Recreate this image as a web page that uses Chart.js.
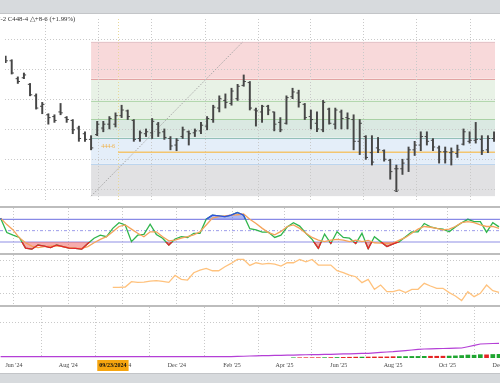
<!DOCTYPE html>
<html>
<head>
<meta charset="utf-8">
<script src="https://cdn.jsdelivr.net/npm/chart.js@4.4.1/dist/chart.umd.min.js"></script>
<style>
  html, body { margin: 0; padding: 0; background: #fff; }
  #wrap { position: relative; width: 500px; height: 383px; overflow: hidden; font-family: "Liberation Serif", serif; }
  .band { position: absolute; left: 0; width: 500px; background: #d7dadd; }
  .sep { position: absolute; left: 0; width: 500px; height: 2px; background: #bdbdbd; }
  canvas { position: absolute; left: 0; }
  #hdr { position: absolute; left: -3px; top: 15px; font-size: 6.8px; color: #333; white-space: nowrap; }
</style>
</head>
<body>
<div id="wrap">
  <div class="band" style="top:0;height:13px;border-bottom:1.5px solid #c3c5c8"></div>
  <canvas id="cPrice" width="500" height="192" style="top:14px"></canvas>
  <div class="sep" style="top:206px"></div>
  <canvas id="cStoch" width="500" height="45" style="top:208px"></canvas>
  <div class="sep" style="top:253px"></div>
  <canvas id="cOi" width="500" height="50" style="top:255px"></canvas>
  <div class="sep" style="top:305px"></div>
  <canvas id="cVol" width="500" height="66" style="top:307px"></canvas>
  <div class="band" style="top:373px;height:10px;border-top:1px solid #c3c5c8"></div>
  <div id="hdr">7-2 C448-4 △+8-6 (+1.99%)</div>
</div>
<script>
// weekly bars (Friday dates)
const weeks = ['2024-05-17','2024-05-24','2024-05-31','2024-06-07','2024-06-14','2024-06-21','2024-06-28','2024-07-05','2024-07-12','2024-07-19','2024-07-26','2024-08-02','2024-08-09','2024-08-16','2024-08-23','2024-08-30','2024-09-06','2024-09-13','2024-09-20','2024-09-27','2024-10-04','2024-10-11','2024-10-18','2024-10-25','2024-11-01','2024-11-08','2024-11-15','2024-11-22','2024-11-29','2024-12-06','2024-12-13','2024-12-20','2024-12-27','2025-01-03','2025-01-10','2025-01-17','2025-01-24','2025-01-31','2025-02-07','2025-02-14','2025-02-21','2025-02-28','2025-03-07','2025-03-14','2025-03-21','2025-03-28','2025-04-04','2025-04-11','2025-04-18','2025-04-25','2025-05-02','2025-05-09','2025-05-16','2025-05-23','2025-05-30','2025-06-06','2025-06-13','2025-06-20','2025-06-27','2025-07-04','2025-07-11','2025-07-18','2025-07-25','2025-08-01','2025-08-08','2025-08-15','2025-08-22','2025-08-29','2025-09-05','2025-09-12','2025-09-19','2025-09-26','2025-10-03','2025-10-10','2025-10-17','2025-10-24','2025-10-31','2025-11-07','2025-11-14','2025-11-21','2025-11-28'];

const highs = [509.2,506.7,495.2,497.8,490.8,483.8,478.1,470.5,469.8,477.4,
  468.6,466.6,462.2,458.4,455.8,465.4,465.4,468.6,471.1,476.2,
  473.0,466.6,459.0,460.3,467.3,464.7,460.3,455.2,453.9,461.6,
  459.0,460.3,464.7,468.6,476.2,482.5,483.8,487.6,490.2,496.5,
  492.1,474.3,476.2,476.2,471.7,467.9,482.5,487.6,486.3,477.4,
  473.0,471.7,479.4,474.3,474.3,473.0,471.1,469.8,466.6,455.8,
  455.8,454.6,446.3,440.0,436.1,440.0,448.2,452.0,458.4,458.4,
  453.9,448.9,448.2,447.6,449.5,460.3,458.4,464.7,455.8,455.8,458.4];
const lows = [504.8,497.1,490.8,494.0,482.5,473.6,470.5,463.5,464.7,469.8,
  464.7,457.1,452.0,452.0,446.3,455.8,458.4,460.3,461.6,467.9,
  466.6,452.0,452.0,455.2,453.9,455.2,453.3,446.3,445.7,453.9,
  449.5,455.2,457.1,459.7,464.7,471.7,474.3,476.2,479.4,488.9,
  473.0,462.2,464.7,469.8,459.0,458.4,463.5,480.6,474.9,466.6,
  460.3,458.4,458.4,463.5,460.3,460.3,460.3,446.3,443.1,439.9,
  436.1,444.4,438.7,426.6,419.0,429.8,431.7,442.5,445.7,449.5,
  445.7,437.4,437.4,436.1,441.2,449.5,450.8,450.8,443.1,444.4,452.0];
const opens = [507.3,506.0,494.0,494.6,490.2,482.5,475.5,469.8,468.6,471.7,
  467.9,466.0,460.9,457.1,453.3,456.5,460.9,463.5,463.5,469.2,
  472.4,466.0,453.9,457.1,457.7,463.5,458.4,453.9,449.5,455.2,
  458.4,457.7,459.0,462.2,466.6,474.3,479.4,477.4,480.6,489.5,
  491.4,473.0,471.7,475.5,471.7,464.7,464.1,481.9,484.4,476.8,
  468.6,464.1,459.7,473.6,463.5,471.7,467.9,466.6,452.0,455.2,
  444.4,447.6,445.7,439.3,433.6,433.6,440.0,446.3,449.5,455.2,
  452.7,447.6,445.0,444.4,443.8,450.1,452.0,452.7,453.3,446.3,453.9];
const closes = [506.0,497.8,492.1,496.5,483.2,474.3,476.8,467.9,466.0,471.1,
  466.6,459.7,453.9,453.3,447.6,463.5,463.5,467.3,469.2,473.0,
  468.6,453.3,457.7,458.4,465.4,457.7,454.6,448.9,452.7,459.7,
  457.1,459.0,462.8,467.3,474.9,480.6,478.1,485.7,488.9,492.1,
  474.3,472.4,475.5,473.0,463.5,459.7,481.3,485.1,478.1,467.9,
  466.6,460.3,478.1,464.1,473.0,467.3,467.3,452.0,464.1,441.2,
  438.1,446.3,440.0,431.7,433.6,437.4,446.3,449.5,455.2,452.0,
  448.2,445.0,445.0,445.0,446.3,458.4,452.7,453.3,445.7,453.9,455.2];

// stochastics %K / %D
const stochK = [83,45,38,32,4,1,12,9,5,12, 8,4,3,1,16,30,38,34,56,71,
  65,21,38,40,67,40,30,12,28,34, 32,43,43,80,91,89,87,91,98,91,
  55,52,46,46,32,38,60,71,62,43, 27,3,41,16,47,32,30,16,43,2,
  34,21,8,15,21,34,47,47,69,60, 56,54,47,60,71,80,74,74,46,71,60];
const stochD = [83,66,52,31,18,9,5,8,9,10, 8,5,3,3,8,18,27,34,47,61,
  65,54,43,34,47,47,34,23,25,30, 34,39,47,65,83,87,89,91,92,94,
  80,69,56,45,39,48,61,65,56,43, 32,25,21,25,27,25,21,25,21,24,
  18,17,16,17,25,32,43,54,61,59, 56,52,54,61,71,74,71,65,61,61,56];

// third panel line (starts in Sep '24)
const oiLine = [null,null,null,null,null,null,null,null,null,null,
  null,null,null,null,null,null,null,null,34,34,
  34.5,42.5,41.5,42,43.5,44,43,41.5,52,46, 45,56,60,62.5,59,59,65,70,76,76,
  67,71,69,70,69,66,71,71,76,72.5, 76,67.5,67.5,67.5,59,56,52.5,50,41,46,
  31,37.5,27.5,27.5,30,26,31,31,40,36, 32.5,32.5,26,21,14,27.5,20,25,37.5,29,26.5];

// bottom panel: volume and purple line
const volume = [null,null,null,null,null,null,null,null,null,null,
  null,null,null,null,null,null,null,null,null,null,
  null,null,null,null,null,null,null,null,null,null,
  null,null,null,null,null,null,null,null,null,null,
  null,null,null,null,null,null,null,6,7,8, 8,9,10,12,14,18,22,25,26,28,
  30,30,32,38,40,42,45,45,48,50, 50,52,55,60,70,85,80,95,90,100,105];
const openInt = [37,37,37,37,37,37,37,37,37,37, 37,37,37,37,37,37,37,37,37,37,
  37,37,37,37,37,37,37,37,37,37, 37,37,37,37,37,37,37,40,45,50,
  57,60,65,70,74,77,80,84,88,92, 95,98,102,105,110,115,120,125,130,134,
  145,158,170,180,195,210,228,245,256,260, 265,270,275,280,284,320,360,398,405,412,418];

// fibonacci retracement drawn from Aug '24 to Feb '25
const fibStart = '2024-08-23', fibEnd = '2025-02-13';
const fibLevels = [415.25, 437, 454.5, 466.75, 479, 494, 518.75];
const hLevel = 444.75, hLabel = '444-6', hStart = '2024-09-23';
const crossDate = '2024-09-23', crossLabel = '09/23/2024';

const tickDates = ['2024-06-01','2024-08-01','2024-10-01','2024-12-01','2025-02-01','2025-04-01','2025-06-01','2025-08-01','2025-10-01','2025-12-01'];
const tickLabels = ["Jun '24","Aug '24","Oct '24","Dec '24","Feb '25","Apr '25","Jun '25","Aug '25","Oct '25","Dec '25"];
const priceGrid = [420, 440, 460, 480, 500, 520];

// ---- helpers
const DAY0 = Date.parse('2024-06-01');
const day = s => (Date.parse(s) - DAY0) / 864e5;
const X_MIN = -15.7, X_MAX = 546.1;
const xs = weeks.map(day);
const pts = arr => xs.map((x, i) => ({ x, y: arr[i] }));

Chart.defaults.animation = false;
Chart.defaults.events = [];
Chart.defaults.font.family = 'Liberation Serif';
Chart.defaults.plugins.legend.display = false;
Chart.defaults.plugins.tooltip.enabled = false;

const GRID = '#c9c9c9';
const BAR = '#464646';

function xAxis(showLabels) {
  return {
    type: 'linear', min: X_MIN, max: X_MAX, offset: false,
    afterBuildTicks: s => { s.ticks = tickDates.map(d => ({ value: day(d) })); },
    afterFit: s => { s.paddingLeft = 0; s.paddingRight = 0; if (showLabels) s.height = 15; },
    grid: { color: GRID, lineWidth: 1, drawTicks: false },
    border: { display: false, dash: [1, 2] },
    ticks: { display: showLabels, autoSkip: false, maxRotation: 0, padding: 4, color: '#444',
      font: { size: 6 }, callback: (v, i) => tickLabels[i] }
  };
}
function yAxis(min, max, gridVals) {
  return {
    min, max,
    afterBuildTicks: s => { s.ticks = (gridVals || []).map(v => ({ value: v })); },
    grid: { color: GRID, lineWidth: 1, drawTicks: false, display: !!gridVals },
    border: { display: false, dash: [1, 2] },
    ticks: { display: false }
  };
}

// fib bands under the grid
const fibFills = ['#e1e1e3', '#e4eef9', '#dae9e2', '#e6f1e4', '#e8f2e6', '#f8d9da'];
const fibLines = [null, '#bcd5ee', '#93c0b8', '#a9d1a4', '#b3d7ae', '#e2a3a3', '#e5c5ca'];
const fibPlugin = {
  id: 'fib',
  beforeDraw(chart) {
    const { ctx, chartArea: a, scales: { x, y } } = chart;
    const x0 = x.getPixelForValue(day(fibStart));
    ctx.save();
    for (let i = 0; i < fibLevels.length - 1; i++) {
      const yt = y.getPixelForValue(fibLevels[i + 1]);
      const yb = y.getPixelForValue(fibLevels[i]);
      ctx.fillStyle = fibFills[i];
      ctx.fillRect(x0, yt, a.right - x0, yb - yt);
    }
    fibLevels.forEach((lv, i) => {
      if (!fibLines[i]) return;
      const py = Math.round(y.getPixelForValue(lv)) + 0.5;
      ctx.strokeStyle = fibLines[i];
      ctx.lineWidth = 1;
      ctx.beginPath(); ctx.moveTo(x0, py); ctx.lineTo(a.right, py); ctx.stroke();
    });
    ctx.restore();
  },
  beforeDatasetsDraw(chart) {
    const { ctx, chartArea: a, scales: { x } } = chart;
    const px = Math.round(x.getPixelForValue(day(crossDate))) + 0.5;
    ctx.save();
    ctx.strokeStyle = '#e8d89a'; ctx.setLineDash([1, 2]); ctx.lineWidth = 1;
    ctx.beginPath(); ctx.moveTo(px, a.top); ctx.lineTo(px, a.bottom); ctx.stroke();
    ctx.restore();
  },
  afterDatasetsDraw(chart) {
    const { ctx, scales: { x, y } } = chart;
    ctx.save();
    ctx.fillStyle = '#f0b24a';
    ctx.font = '6px "Liberation Serif"';
    ctx.textAlign = 'right'; ctx.textBaseline = 'alphabetic';
    ctx.fillText(hLabel, x.getPixelForValue(day(hStart)) - 3, y.getPixelForValue(hLevel) - 4);
    // small cup under the lowest low of the period
    const lo = Math.min(...lows), i = lows.indexOf(lo);
    ctx.strokeStyle = BAR; ctx.lineWidth = 1;
    ctx.beginPath();
    ctx.arc(x.getPixelForValue(xs[i]), y.getPixelForValue(lo) - 1.5, 2.5, 0.15 * Math.PI, 0.85 * Math.PI);
    ctx.stroke();
    ctx.restore();
  }
};

new Chart(document.getElementById('cPrice'), {
  type: 'bar',
  data: {
    datasets: [
      { type: 'scatter', data: pts(opens), pointStyle: 'dash', pointRotation: 180, pointRadius: 2.2,
        pointBorderColor: BAR, pointBorderWidth: 1, order: 1 },
      { type: 'scatter', data: pts(closes), pointStyle: 'dash', pointRotation: 0, pointRadius: 2.2,
        pointBorderColor: BAR, pointBorderWidth: 1, order: 1 },
      { type: 'bar', data: xs.map((x, i) => ({ x, y: [lows[i], highs[i]] })), backgroundColor: BAR,
        barThickness: 1.3, borderWidth: 0, order: 2 },
      { type: 'line', data: [{ x: day(hStart), y: hLevel }, { x: X_MAX, y: hLevel }],
        borderColor: '#f3c56f', borderWidth: 1.5, pointRadius: 0, order: 3 },
      { type: 'line', data: [{ x: day(fibStart), y: fibLevels[0] }, { x: day(fibEnd), y: fibLevels[6] }],
        borderColor: '#a8a8a8', borderWidth: 1, borderDash: [1.5, 1.5], pointRadius: 0, order: 4 }
    ]
  },
  options: {
    responsive: false,
    layout: { padding: 0 },
    scales: { x: xAxis(false), y: yAxis(412, 534, priceGrid) }
  },
  plugins: [fibPlugin]
});

// stochastic: recolour the %K line outside the 20/80 band
const stochEdge = {
  id: 'stochEdge',
  afterDatasetsDraw(chart) {
    const { ctx, chartArea: a, scales: { y } } = chart;
    const meta = chart.getDatasetMeta(1);
    [[20, '#e8232b', false], [80, '#2f4fe0', true]].forEach(([lv, col, above]) => {
      const py = y.getPixelForValue(lv);
      ctx.save();
      ctx.beginPath();
      if (above) ctx.rect(a.left, a.top, a.width, py - a.top);
      else ctx.rect(a.left, py, a.width, a.bottom - py);
      ctx.clip();
      ctx.strokeStyle = col; ctx.lineWidth = 1.3; ctx.lineJoin = 'round';
      ctx.beginPath();
      meta.data.forEach((p, i) => i ? ctx.lineTo(p.x, p.y) : ctx.moveTo(p.x, p.y));
      ctx.stroke();
      ctx.restore();
    });
  }
};
const flat = v => [{ x: X_MIN, y: v }, { x: X_MAX, y: v }];
new Chart(document.getElementById('cStoch'), {
  type: 'line',
  data: {
    datasets: [
      { data: pts(stochD), borderColor: '#f5a35a', borderWidth: 1.3, pointRadius: 0, order: 1 },
      { data: pts(stochK), borderColor: '#2fb54c', borderWidth: 1.3, pointRadius: 0, order: 2,
        fill: { target: { value: 20 }, above: 'rgba(0,0,0,0)', below: 'rgba(238,70,70,0.45)' } },
      { data: pts(stochK), borderWidth: 0, borderColor: 'rgba(0,0,0,0)', pointRadius: 0, order: 3,
        fill: { target: { value: 80 }, above: 'rgba(70,95,235,0.45)', below: 'rgba(0,0,0,0)' } },
      { data: flat(80), borderColor: '#8f8fe6', borderWidth: 1.2, pointRadius: 0, order: 5 },
      { data: flat(20), borderColor: '#8f8fe6', borderWidth: 1.2, pointRadius: 0, order: 5 },
      { data: flat(50), borderColor: '#9c9cea', borderWidth: 1, borderDash: [3, 2, 1, 2], pointRadius: 0, order: 5 }
    ]
  },
  options: {
    responsive: false,
    scales: { x: xAxis(false), y: yAxis(-9.1, 109.9, null) }
  },
  plugins: [stochEdge]
});

new Chart(document.getElementById('cOi'), {
  type: 'line',
  data: { datasets: [
    { data: pts(oiLine), borderColor: '#ffc27d', borderWidth: 1.3, pointRadius: 0, spanGaps: false }
  ] },
  options: {
    responsive: false,
    scales: { x: xAxis(false), y: yAxis(7.4, 82.7, [25, 50, 75]) }
  }
});

const dateBox = {
  id: 'dateBox',
  afterDraw(chart) {
    const { ctx, scales: { x } } = chart;
    const cx = x.getPixelForValue(day(crossDate)) - 2.5;
    ctx.save();
    ctx.font = 'bold 6px "Liberation Serif"';
    const w = ctx.measureText(crossLabel).width + 4;
    ctx.fillStyle = '#f6a50f';
    ctx.fillRect(cx - w / 2, 53, w, 11);
    ctx.fillStyle = '#111';
    ctx.textAlign = 'center'; ctx.textBaseline = 'middle';
    ctx.fillText(crossLabel, cx, 58.8);
    ctx.restore();
  }
};
new Chart(document.getElementById('cVol'), {
  type: 'bar',
  data: { datasets: [
    { type: 'line', data: pts(openInt), borderColor: '#b43fd6', borderWidth: 1.2, pointRadius: 0, order: 1 },
    { type: 'bar', data: xs.map((x, i) => ({ x, y: volume[i] })).filter(p => p.y !== null),
      backgroundColor: xs.map((x, i) => closes[i] >= opens[i] ? '#1ea52f' : '#e32424').filter((c, i) => volume[i] !== null),
      barThickness: 4, borderWidth: 0, order: 2 }
  ] },
  options: {
    responsive: false,
    scales: { x: xAxis(true), y: yAxis(0, 1450, [1000]) }
  },
  plugins: [dateBox]
});
</script>
</body>
</html>
